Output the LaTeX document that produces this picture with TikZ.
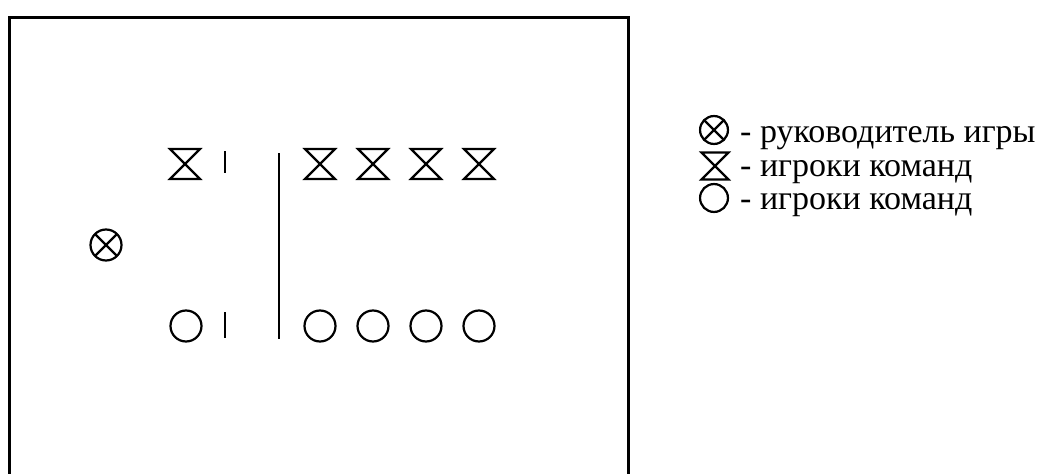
\documentclass[tikz,border=0pt]{standalone}
\usepackage{fontspec}
\setmainfont{Liberation Serif}
\tikzset{
  sym/.style={line width=2.2pt},
  hglass/.pic={\draw[sym,line join=miter] (-15,-15) -- (15,-15) -- (-15,15) -- (15,15) -- cycle;},
  player/.pic={\draw[sym] (0,0) circle(15.5);},
  leader/.pic={\draw[sym] (0,0) circle(15.5);
               \draw[sym] (-45:15.5) -- (135:15.5) (45:15.5) -- (225:15.5);},
  legtext/.style={anchor=base west,inner sep=0pt,font=\fontsize{34}{40}\selectfont},
}
\begin{document}
\begin{tikzpicture}[x=1pt,y=-1pt]
            \useasboundingbox (0,0) rectangle (1045,474);
            % field
            \draw[line width=3pt] (9,474) -- (9,17) -- (628,17) -- (628,474);
            \draw[line width=2pt] (279,153) -- (279,339);
            \draw[line width=2pt] (225,151) -- (225,173);
            \draw[line width=2pt] (225,312) -- (225,338);
            % players
            \pic at (106,245) {leader};
            \pic at (185,164) {hglass};
            \pic at (186,326) {player};
            \foreach \x in {320,373,426,479} {
                    \pic at (\x,164) {hglass};
                    \pic at (\x,326) {player};
                }
            % legend
            \pic[scale=0.9] at (714,130) {leader};
            \pic[scale=0.9] at (715,166) {hglass};
            \pic[scale=0.9] at (714,198) {player};
            \node[legtext] (lead) at (740,142) {- руководитель игры};
            \node[legtext] (teama) at (740,176) {- игроки команд};
            \node[legtext] (teamb) at (740,209) {- игроки команд};
        \end{tikzpicture}
\end{document}
